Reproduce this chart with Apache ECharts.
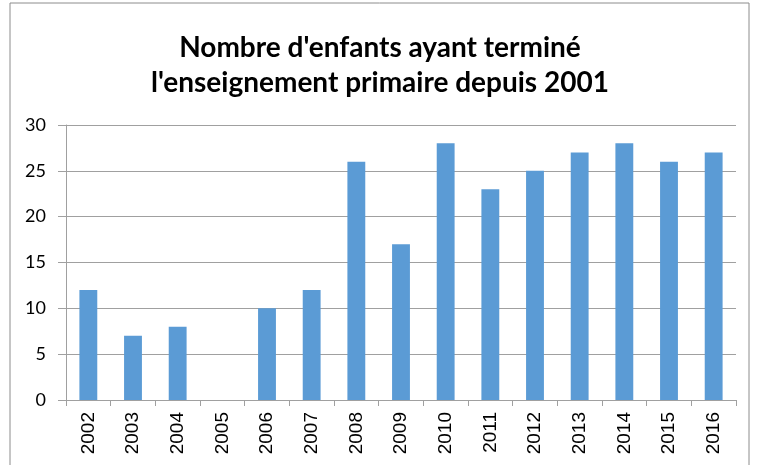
<!DOCTYPE html>
<html><head><meta charset="utf-8">
<script src="https://cdn.jsdelivr.net/npm/echarts@6/dist/echarts.min.js"></script>
<style>html,body{margin:0;padding:0;background:#fff}#c{width:760px;height:465px}</style>
</head><body><div id="c"></div>
<script>
const titleText = "Nombre d'enfants ayant terminé\nl'enseignement primaire depuis 2001";
const categories = ["2002","2003","2004","2005","2006","2007","2008","2009","2010","2011","2012","2013","2014","2015","2016"];
const values = [12,7,8,0,10,12,26,17,28,23,25,27,28,26,27];
const yTicks = {min:0, max:30, interval:5};

const chart = echarts.init(document.getElementById('c'), null, {renderer:'canvas'});
chart.setOption({
  animation:false,
  backgroundColor:'#fff',
  graphic:[{type:'rect', shape:{x:10,y:3,width:739,height:480}, style:{fill:'none', stroke:'#8c8c8c', lineWidth:1}, silent:true}],
  title:{text:titleText, left:'center', top:25,
    textStyle:{fontFamily:'Lato', fontWeight:'bold', fontSize:28, lineHeight:35, color:'#000'}},
  grid:{left:66, right:24, top:125, bottom:65, containLabel:false},
  xAxis:{type:'category', data:categories,
    axisLine:{lineStyle:{color:'#a0a0a0'}},
    axisTick:{show:true, length:6, alignWithLabel:false, lineStyle:{color:'#a0a0a0'}},
    axisLabel:{rotate:90, fontFamily:'Liberation Sans', fontSize:19, color:'#000', margin:12, interval:0}},
  yAxis:{type:'value', min:yTicks.min, max:yTicks.max, interval:yTicks.interval,
    axisLine:{show:true, lineStyle:{color:'#a0a0a0'}},
    axisTick:{show:true, length:8, lineStyle:{color:'#a0a0a0'}},
    splitLine:{lineStyle:{color:'#a0a0a0'}},
    axisLabel:{fontFamily:'Lato', fontSize:18, color:'#000', margin:20}},
  series:[{type:'bar', data:values, barWidth:'40%', itemStyle:{color:'#5B9BD5'}}]
});
</script></body></html>
